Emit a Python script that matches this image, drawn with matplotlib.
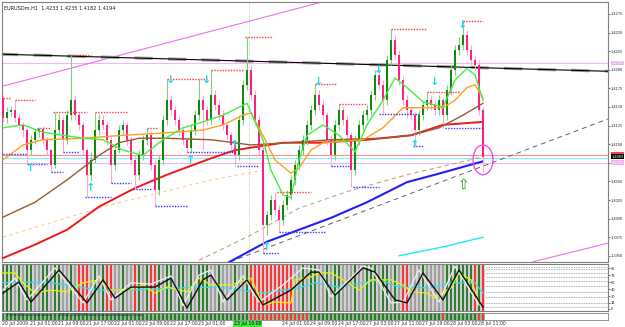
import numpy as np
import matplotlib
matplotlib.use('Agg')
import matplotlib.pyplot as plt
from matplotlib.patches import Ellipse, Rectangle
import matplotlib.transforms as mtransforms

# ---------------- data (EURUSDm, H1) ----------------
header = "EURUSDm,H1  1.4233 1.4235 1.4182 1.4194"

open_ = [1.4162,1.4135,1.4143,1.4146,1.4135,1.4126,1.4119,1.4092,1.4106,1.4116,
 1.4120,1.4106,1.4092,1.4072,1.4119,1.4133,1.4106,1.4139,1.4159,1.4139,
 1.4126,1.4092,1.4059,1.4079,1.4119,1.4133,1.4126,1.4106,1.4072,1.4092,
 1.4119,1.4126,1.4106,1.4079,1.4059,1.4085,1.4106,1.4112,1.4072,1.4038,
 1.4079,1.4133,1.4159,1.4146,1.4133,1.4119,1.4106,1.4095,1.4119,1.4139,
 1.4159,1.4146,1.4133,1.4166,1.4153,1.4139,1.4126,1.4112,1.4099,1.4085,
 1.4133,1.4180,1.4200,1.4166,1.4133,1.4092,1.3991,1.4005,1.4025,1.4012,
 1.3998,1.4018,1.4032,1.4052,1.4072,1.4092,1.4106,1.4126,1.4146,1.4166,
 1.4153,1.4139,1.4106,1.4085,1.4126,1.4146,1.4133,1.4112,1.4065,1.4106,
 1.4126,1.4139,1.4146,1.4166,1.4193,1.4180,1.4159,1.4213,1.4240,1.4220,
 1.4186,1.4159,1.4146,1.4139,1.4119,1.4139,1.4153,1.4159,1.4153,1.4146,
 1.4159,1.4139,1.4173,1.4200,1.4227,1.4233,1.4247,1.4227,1.4213,1.4206,
 1.4146]
close = [1.4135,1.4143,1.4146,1.4135,1.4126,1.4119,1.4092,1.4106,1.4116,1.4120,
 1.4106,1.4092,1.4072,1.4119,1.4133,1.4106,1.4139,1.4159,1.4139,1.4126,
 1.4092,1.4059,1.4079,1.4119,1.4133,1.4126,1.4106,1.4072,1.4092,1.4119,
 1.4126,1.4106,1.4079,1.4059,1.4085,1.4106,1.4112,1.4072,1.4038,1.4079,
 1.4133,1.4159,1.4146,1.4133,1.4119,1.4106,1.4095,1.4119,1.4139,1.4159,
 1.4146,1.4133,1.4166,1.4153,1.4139,1.4126,1.4112,1.4099,1.4085,1.4133,
 1.4180,1.4200,1.4166,1.4133,1.4092,1.3991,1.4005,1.4025,1.4012,1.3998,
 1.4018,1.4032,1.4052,1.4072,1.4092,1.4106,1.4126,1.4146,1.4166,1.4153,
 1.4139,1.4106,1.4085,1.4126,1.4146,1.4133,1.4112,1.4065,1.4106,1.4126,
 1.4139,1.4146,1.4166,1.4193,1.4180,1.4159,1.4213,1.4240,1.4220,1.4186,
 1.4159,1.4146,1.4139,1.4119,1.4139,1.4153,1.4159,1.4153,1.4146,1.4159,
 1.4139,1.4173,1.4200,1.4227,1.4233,1.4247,1.4227,1.4213,1.4206,1.4146,
 1.4083]
high = [1.4166,1.4150,1.4152,1.4159,1.4140,1.4130,1.4122,1.4112,1.4120,1.4122,
 1.4124,1.4110,1.4095,1.4143,1.4140,1.4136,1.4146,1.4220,1.4166,1.4143,
 1.4130,1.4095,1.4090,1.4143,1.4140,1.4139,1.4130,1.4110,1.4099,1.4126,
 1.4133,1.4130,1.4110,1.4085,1.4092,1.4112,1.4122,1.4116,1.4079,1.4085,
 1.4139,1.4188,1.4166,1.4153,1.4139,1.4122,1.4110,1.4126,1.4146,1.4188,
 1.4166,1.4153,1.4200,1.4173,1.4159,1.4146,1.4130,1.4116,1.4104,1.4139,
 1.4186,1.4244,1.4206,1.4173,1.4139,1.4099,1.4012,1.4032,1.4036,1.4018,
 1.4025,1.4038,1.4059,1.4079,1.4099,1.4112,1.4133,1.4153,1.4181,1.4173,
 1.4159,1.4143,1.4112,1.4133,1.4154,1.4150,1.4139,1.4116,1.4112,1.4133,
 1.4146,1.4153,1.4173,1.4200,1.4200,1.4186,1.4220,1.4255,1.4247,1.4227,
 1.4193,1.4166,1.4150,1.4143,1.4146,1.4159,1.4170,1.4166,1.4159,1.4166,
 1.4163,1.4180,1.4206,1.4233,1.4244,1.4266,1.4253,1.4233,1.4220,1.4213,
 1.4150]
low = [1.4130,1.4128,1.4138,1.4130,1.4120,1.4110,1.4073,1.4086,1.4100,1.4110,
 1.4100,1.4085,1.4063,1.4068,1.4112,1.4090,1.4100,1.4133,1.4133,1.4119,
 1.4085,1.4029,1.4050,1.4075,1.4112,1.4119,1.4099,1.4048,1.4065,1.4088,
 1.4112,1.4099,1.4072,1.4040,1.4052,1.4079,1.4099,1.4065,1.4017,1.4032,
 1.4072,1.4126,1.4139,1.4126,1.4112,1.4099,1.4090,1.4090,1.4112,1.4133,
 1.4092,1.4126,1.4126,1.4146,1.4133,1.4119,1.4106,1.4092,1.4071,1.4079,
 1.4126,1.4173,1.4159,1.4126,1.4085,1.3954,1.3978,1.3998,1.4005,1.3982,
 1.3991,1.4012,1.4025,1.4045,1.4065,1.4085,1.4099,1.4119,1.4139,1.4146,
 1.4133,1.4099,1.4071,1.4079,1.4119,1.4126,1.4106,1.4042,1.4059,1.4099,
 1.4119,1.4133,1.4139,1.4159,1.4173,1.4142,1.4153,1.4206,1.4213,1.4180,
 1.4153,1.4135,1.4133,1.4098,1.4112,1.4133,1.4146,1.4146,1.4139,1.4139,
 1.4122,1.4133,1.4166,1.4193,1.4220,1.4227,1.4220,1.4206,1.4200,1.4139,
 1.4063]

# moving averages (sampled at bar indices)
ma_fast_x = [0,5,10,15,20,25,30,35,40,45,50,55,61,65,67,70,72,74,76,80,84,88,91,95,98,101,105,110,113,116,118,120]
ma_fast   = [1.4122,1.4126,1.4116,1.4112,1.4108,1.4106,1.4092,1.4085,1.4106,1.4122,1.4130,1.4139,1.4155,1.4106,1.4065,
             1.4032,1.4028,1.4079,1.4112,1.4126,1.4112,1.4090,1.4126,1.4159,1.4189,1.4176,1.4157,1.4150,1.4186,1.4202,1.4193,1.4159]
ma_mid_x = [0,5,10,20,30,40,50,55,60,62,65,68,72,74,77,80,85,90,95,100,105,110,113,116,118,120]
ma_mid   = [1.4079,1.4099,1.4106,1.4108,1.4112,1.4115,1.4119,1.4126,1.4139,1.4142,1.4112,1.4079,1.4061,1.4068,1.4092,
            1.4102,1.4104,1.4106,1.4122,1.4149,1.4149,1.4149,1.4159,1.4176,1.4180,1.4162]
ma_slow_x = [0,8,16,24,29,34,41,52,62,74,82,95,102,109,115,120]
ma_slow   = [1.4002,1.4022,1.4052,1.4085,1.4102,1.4108,1.4108,1.4106,1.4099,1.4103,1.4106,1.4108,1.4112,1.4122,1.4139,1.4155]
ma_red_x = [0,8,16,24,33,41,46,52,58,70,79,91,102,110,120]
ma_red   = [1.3947,1.3965,1.3985,1.4016,1.4041,1.4059,1.4069,1.4081,1.4092,1.4102,1.4102,1.4106,1.4112,1.4126,1.4130]
ma_blue_x = [56,66,74,82,91,101,108,116,120]
ma_blue   = [1.3940,1.3969,1.3985,1.4001,1.4022,1.4049,1.4059,1.4071,1.4077]
ma_tan_x = [49,62,74,87,101,120]
ma_tan   = [1.3944,1.3978,1.4014,1.4038,1.4059,1.4083]
ma_peach_x = [0,25,52,65]
ma_peach   = [1.3975,1.4016,1.4052,1.4065]
ma_cyan_x = [99,110,120]
ma_cyan   = [1.3950,1.3962,1.3975]

# trend lines (bar, price) pairs
trend_black = ([-0.75, 151.25], [1.4221, 1.4198])
trend_grey  = ([56.75, 151.25], [1.3942, 1.4134])
trend_mag1  = ([-0.75, 81.75], [1.4177, 1.4294])
trend_mag2  = ([132.5, 151.25], [1.3942, 1.3967])
hline_pink, hline_red, hline_cyan, hline_lav = 1.4209, 1.4085, 1.4081, 1.4075

# signal arrows
up_x = [7, 22, 47, 58, 66, 103]
up_y = [1.4068, 1.4041, 1.4079, 1.4099, 1.3962, 1.4099]
dn_x = [42, 51, 79, 94, 108, 115]
dn_y = [1.4186, 1.4186, 1.4184, 1.4200, 1.4184, 1.4260]

# resistance (red dotted) and support (blue dotted) segments
res_x0 = [0, 3, 8.5, 12.5, 17, 23, 36, 41, 52, 60.5, 68.5, 78, 84, 97, 106, 115]
res_x1 = [2, 8, 12, 21, 22, 31, 38.5, 51, 60, 67.5, 77, 83.5, 91, 106, 114, 120]
res_p  = [1.4162,1.4159,1.4122,1.4143,1.4220,1.4143,1.4122,1.4188,1.4200,1.4244,1.4036,1.4181,1.4154,1.4255,1.4170,1.4266]
sup_x0 = [-0.75, 6, 12, 15, 20.5, 27, 32.5, 38, 46, 58.5, 65, 69, 82, 87.5, 94, 102.5, 110.5]
sup_x1 = [6, 11, 15, 19, 27, 32, 37, 46, 58, 64, 69, 80.5, 87, 94, 104, 105, 120]
sup_p  = [1.4087,1.4073,1.4063,1.4090,1.4029,1.4048,1.4040,1.4017,1.4090,1.4071,1.3954,1.3982,1.4071,1.4042,1.4140,1.4098,1.4122]

price_ticks = [1.4275,1.4250,1.4225,1.4200,1.4175,1.4150,1.4125,1.4100,1.4075,1.4050,1.4025,1.4000,1.3975,1.3950]

# oscillator window
osc_bg = "gggsgsggssggsggssgsrrrsgsgrrssgssrgsgrrgsggsggsgsgggssgsssgssgrrrrrrrrrrrssgsggssgsggsssgssgggsggsgsrrsssgsssssgggggggrgr"
strip_codes = "g" * 62 + "r" * 15 + "g" * 33 + "r" + "g" * 8 + "rr"
osc_black_x = [0,4,7,14,21,25,28,32,38,42,46,50,52,56,61,65,72,77,79,83,90,93,98,101,105,110,114,120]
osc_black   = [37,63,16,91,14,68,25,51,51,72,2,68,79,21,68,9,44,86,86,32,96,86,21,14,84,21,91,4]
osc_white_x = [0,3,6,13,20,24,27,32,37,42,45,49,52,55,60,64,70,75,79,82,90,92,97,100,104,109,113,119]
osc_white   = [44,72,21,96,14,77,21,61,58,77,7,79,91,16,77,16,56,96,91,28,100,96,14,16,91,16,100,9]
osc_yellow_x = [0,3,5,8,12,16,20,24,27,31,35,38,41,46,49,52,57,62,65,68,72,73,77,79,82,86,89,92,97,100,102,106,108,112,114,117,119]
osc_yellow   = [84,84,61,37,44,40,61,68,44,44,56,37,51,40,72,56,56,72,9,16,14,68,75,84,84,63,44,68,68,56,40,37,25,49,84,68,16]
osc_cyan_x = [0,4,12,24,32,49,56,62,65,74,78,84,94,99,107,112,118,120]
osc_cyan   = [61,63,61,44,44,51,49,40,37,49,61,51,68,51,49,61,61,37]
osc_levels = [98, 93, 84, 75, 65, 53, 40, 28, 14, 4]
osc_ticks = [95, 79, 62, 46, 30, 14, 0]

date_labels = ['20 Jul 2009','21 Jul 01:00','21 Jul 09:00','21 Jul 17:00','22 Jul 01:00','22 Jul 09:00',
               '22 Jul 17:00','23 Jul 01:00','','','24 Jul 01:00','24 Jul 09:00','24 Jul 17:00',
               '27 Jul 03:00','27 Jul 11:00','27 Jul 19:00','28 Jul 03:00','28 Jul 11:00']
vline_bar = 61.5
vline_label = '23 Jul 10:00'

# ---------------- figure ----------------
W, H = 625, 327
fig = plt.figure(figsize=(W / 100, H / 100), dpi=100)
fig.patch.set_facecolor('white')
SMALL = 'Liberation Sans'

def px_axes(x0, y0, x1, y1):
    return fig.add_axes([x0 / W, 1 - y1 / H, (x1 - x0) / W, (y1 - y0) / H])

XL = (-0.25, 151.25)
main = px_axes(2, 2, 608, 262)
main.set_xlim(*XL)
main.set_ylim(1.39417, 1.42911)
for s in main.spines.values():
    s.set_color('#808080'); s.set_linewidth(0.8)
main.set_xticks([])
main.yaxis.tick_right()
main.set_yticks(price_ticks)
main.set_yticklabels(['%.4f' % t for t in price_ticks], fontfamily=SMALL)
main.tick_params(axis='y', labelsize=2.9, length=1.5, width=0.5, pad=0.8, colors='#303030')

o = np.array(open_); c = np.array(close); h = np.array(high); l = np.array(low)
bars = np.arange(len(c))
bull = c >= o

# horizontal lines
main.axhline(hline_pink, color='#F4B8F0', lw=0.8, zorder=1)
main.axhline(hline_red, color='#FF9090', lw=0.8, zorder=1)
main.axhline(hline_cyan, color='#80F0F0', lw=0.8, zorder=1)
main.axhline(hline_lav, color='#EEB8EE', lw=0.8, zorder=1)
main.axvline(vline_bar, color='#90E090', lw=0.7, ls=(0, (1, 1.5)), zorder=1)

# trend lines
main.plot(*trend_mag1, color='#F070F0', lw=0.8, zorder=2)
main.plot(*trend_mag2, color='#F070F0', lw=0.8, zorder=2)
main.plot(*trend_black, color='#A0A0A0', lw=2.2, ls=(0, (6, 5)), zorder=2)
main.plot(*trend_black, color='black', lw=0.8, zorder=2)
main.plot(*trend_grey, color='#606060', lw=0.7, ls=(0, (5, 4)), zorder=2)

# long averages behind candles
main.plot(ma_peach_x, ma_peach, color='#FFC890', lw=0.8, ls=(0, (3, 3)), zorder=2)
main.plot(ma_tan_x, ma_tan, color='#C8A080', lw=0.8, ls=(0, (4, 3)), zorder=2)
main.plot(ma_blue_x, ma_blue, color='#2020F0', lw=1.5, zorder=3)
main.plot(ma_cyan_x, ma_cyan, color='#20E8F0', lw=1.0, zorder=3)
main.plot(ma_red_x, ma_red, color='#F01818', lw=1.4, zorder=3)

# candles
main.vlines(bars[bull], l[bull], h[bull], color='#88C888', lw=0.8, zorder=4)
main.vlines(bars[~bull], l[~bull], h[~bull], color='#FFA8C8', lw=0.8, zorder=4)
body_lo = np.minimum(o, c)
body_h = np.maximum(np.abs(c - o), 0.00008)
main.bar(bars[bull], body_h[bull], bottom=body_lo[bull], width=0.65, color='#0F8A0F', zorder=5)
main.bar(bars[~bull], body_h[~bull], bottom=body_lo[~bull], width=0.65, color='#FF2080', zorder=5)

# faster averages above candles
main.plot(ma_slow_x, ma_slow, color='#9A5A30', lw=1.0, zorder=6)
main.plot(ma_mid_x, ma_mid, color='#FFA020', lw=1.0, zorder=6)
main.plot(ma_fast_x, ma_fast, color='#40F040', lw=1.0, zorder=6)

# signal dotted segments
for x0, x1, p in zip(res_x0, res_x1, res_p):
    main.plot([x0, x1], [p, p], color='#FF3838', lw=1.0, ls=(0, (1, 1)), zorder=7)
for x0, x1, p in zip(sup_x0, sup_x1, sup_p):
    main.plot([x0, x1], [p, p], color='#3838FF', lw=1.0, ls=(0, (1, 1)), zorder=7)

# arrows
for x, y in zip(up_x, up_y):
    main.text(x, y, '\u2191', color='#20D8F0', fontsize=8, fontweight='bold', ha='center', va='center', zorder=8)
for x, y in zip(dn_x, dn_y):
    main.text(x, y, '\u2193', color='#20D8F0', fontsize=8, fontweight='bold', ha='center', va='center', zorder=8)
main.text(115, 1.4045, '\u21e7', color='#208820', fontsize=10, ha='center', va='center', zorder=8)
main.add_patch(Ellipse((120, 1.4079), 5.0, 0.0040, fill=False, edgecolor='#F040F0', lw=0.9, zorder=8))

# header
main.text(0.004, 0.985, header, transform=main.transAxes, fontsize=3.6, va='top', ha='left', color='#202020')

# right side price labels
tr = mtransforms.blended_transform_factory(main.transAxes, main.transData)
def plabel(p, fc, tc):
    main.text(1.006, p, '%.4f' % p, transform=tr, fontsize=2.9, fontfamily=SMALL, color=tc, va='center', ha='left',
              bbox=dict(boxstyle='square,pad=0.1', fc=fc, ec='none'), clip_on=False, zorder=10)
plabel(hline_pink, '#F0B0F0', 'white')
plabel(hline_lav, '#F0B0F0', 'white')
main.add_patch(Rectangle((1.005, hline_red - 0.0002), 0.021, 0.0006, transform=tr, fc='#FF4040', ec='none',
                         clip_on=False, zorder=9))
plabel(close[-1], 'black', 'white')

# ---------------- oscillator ----------------
osc = px_axes(2, 264, 608, 311)
osc.set_xlim(*XL); osc.set_ylim(-5, 105)
for s in osc.spines.values():
    s.set_color('#808080'); s.set_linewidth(0.8)
osc.set_xticks([])
osc.yaxis.tick_right()
osc.set_yticks(osc_ticks)
osc.set_yticklabels([str(t) for t in osc_ticks], fontfamily=SMALL)
osc.tick_params(axis='y', labelsize=2.9, length=1.5, width=0.5, pad=0.8, colors='#303030')
for lv in osc_levels:
    osc.axhline(lv, color='#909090', lw=0.6, ls=(0, (1, 1)), zorder=0)
colmap = {'g': '#2E7D2E', 's': '#A0A0A0', 'r': '#FF3434'}
osc.bar(np.arange(len(osc_bg)), 120, bottom=-10, width=1.0, color='#D0D0D0', zorder=1)
osc.bar(np.arange(len(osc_bg)), 120, bottom=-10, width=0.72, color=[colmap[k] for k in osc_bg], zorder=2)
osc.axvline(vline_bar, color='#90E090', lw=0.7, ls=(0, (1, 1.5)), zorder=3)
osc.plot(osc_cyan_x, osc_cyan, color='#30E0E8', lw=0.9, zorder=4)
osc.plot(osc_yellow_x, osc_yellow, color='#F0F000', lw=0.9, zorder=4)
osc.plot(osc_white_x, osc_white, color='#F0F0F0', lw=0.9, zorder=5)
osc.plot(osc_black_x, osc_black, color='#101010', lw=1.0, zorder=6)

# bottom strip
strip = px_axes(2, 313, 608, 320)
strip.set_xlim(*XL); strip.set_ylim(0, 1)
strip.set_xticks([]); strip.set_yticks([])
for s in strip.spines.values():
    s.set_color('#808080'); s.set_linewidth(0.6)
smap = {'g': '#2E7D2E', 'r': '#FF3434'}
strip.bar(np.arange(len(strip_codes)), 1, width=1.0, color='#90B890', zorder=1)
strip.bar(np.arange(len(strip_codes)), 1, width=0.72, color=[smap[k] for k in strip_codes], zorder=2)
strip.text(1, 0.75, 'ForexTrend Indicator \u00a9 2006-2009 MetaQuotes Software Corp.', fontsize=3.2,
           color='#202040', va='center', ha='left', zorder=3)

# date labels
for k, lab in enumerate(date_labels):
    if lab:
        fig.text((3 + 28 * k - 1) / W, 1 - 324 / H, lab, fontsize=3.3, color='#303030', va='center', ha='left')
fig.text((3 + 4 * vline_bar - 15) / W, 1 - 324 / H, vline_label, fontsize=3.3, color='black', va='center', ha='left',
         bbox=dict(boxstyle='square,pad=0.2', fc='#40F040', ec='none'))

fig.savefig('out.png', dpi=100)
